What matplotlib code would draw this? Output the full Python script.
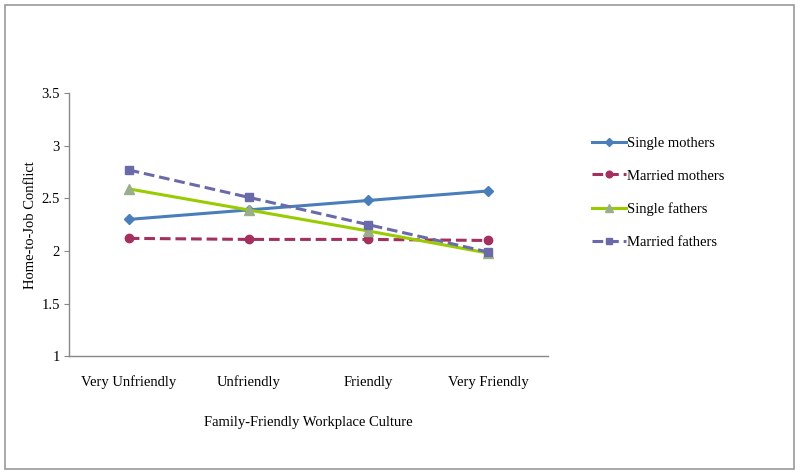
import matplotlib
matplotlib.use("Agg")
import matplotlib.pyplot as plt
from matplotlib.patches import Rectangle

categories = ["Very Unfriendly", "Unfriendly", "Friendly", "Very Friendly"]
single_mothers = [2.30, 2.39, 2.48, 2.57]
married_mothers = [2.12, 2.11, 2.11, 2.10]
single_fathers = [2.59, 2.39, 2.19, 1.98]
married_fathers = [2.77, 2.51, 2.25, 1.99]

plt.rcParams["font.family"] = ["Liberation Serif", "DejaVu Serif"]

fig = plt.figure(figsize=(8, 4.75), dpi=100)
ax = fig.add_axes([0.086, 0.25, 0.599, 0.554])

x = range(len(categories))
ax.plot(x, single_mothers, color="#4a7ebb", lw=2.2, marker="D", ms=5.5, label="Single mothers")
ax.plot(x, married_mothers, color="#a3305e", lw=2.2, ls=(0, (3.5, 1.6)), marker="o", ms=6,
        label="Married mothers")
ax.plot(x, single_fathers, color="#99cc00", lw=2.2, marker="^", ms=7, mfc="#9bae8a", mec="#9bae8a",
        label="Single fathers")
ax.plot(x, married_fathers, color="#6a6aa8", lw=2.2, ls=(0, (3.5, 1.6)), marker="s", ms=5.5,
        label="Married fathers")

ax.set_xlim(-0.5, 3.5)
ax.set_ylim(1, 3.5)
ax.set_yticks([1, 1.5, 2, 2.5, 3, 3.5])
ax.set_yticklabels(["1", "1.5", "2", "2.5", "3", "3.5"])
ax.set_xticks(list(x))
ax.set_xticklabels(categories)
ax.tick_params(axis="x", length=0, pad=14, labelsize=10.5)
ax.tick_params(axis="y", length=3.5, color="#888888", labelsize=10.5, pad=3)
for s in ["top", "right"]:
    ax.spines[s].set_visible(False)
for s in ["left", "bottom"]:
    ax.spines[s].set_color("#888888")
    ax.spines[s].set_linewidth(1)

ax.set_ylabel("Home-to-Job Conflict", fontsize=10.5, labelpad=3)
ax.set_xlabel("Family-Friendly Workplace Culture", fontsize=10.5, labelpad=19)

ax.legend(loc="upper left", bbox_to_anchor=(1.065, 0.885), frameon=False, fontsize=10.5,
          labelspacing=1.35, handlelength=2.3, handletextpad=0.1, markerscale=0.8)

fig.patches.append(Rectangle((0.006, 0.012), 0.987, 0.977, transform=fig.transFigure,
                             fill=False, edgecolor="#999999", lw=1.2))

fig.savefig("out.png", dpi=100)
